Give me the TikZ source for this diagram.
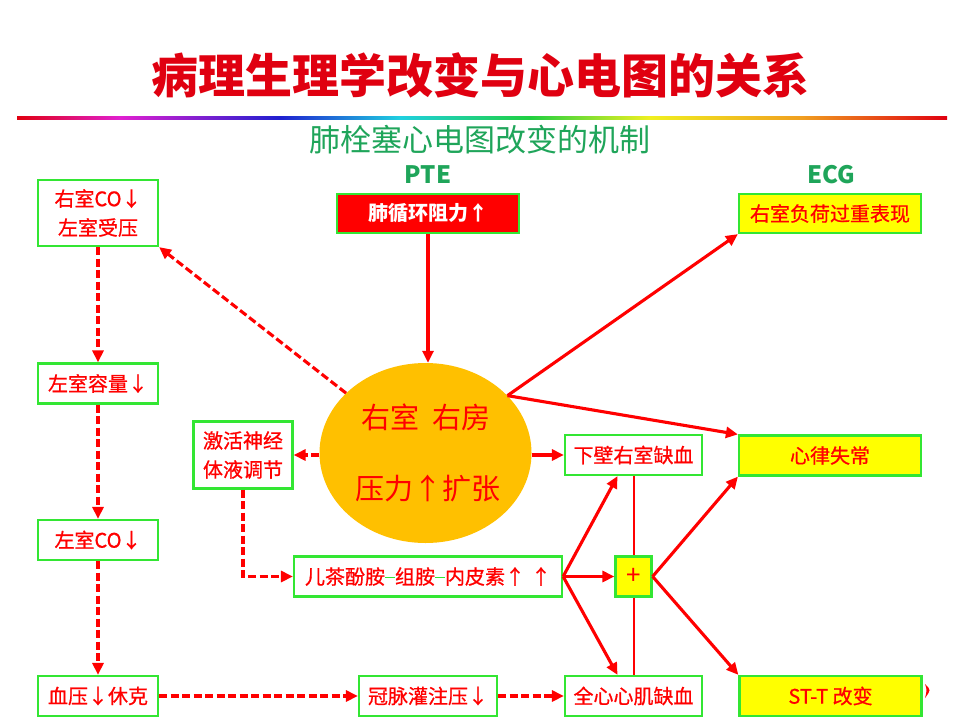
\documentclass[tikz,border=0pt]{standalone}
\usepackage{fontspec}
\newfontfamily\cjk{Noto Sans CJK SC}
\newfontfamily\cjkm{Noto Sans CJK SC}[FakeBold=0.8]
\usetikzlibrary{arrows.meta,shapes.geometric,calc}
\definecolor{bgreen}{HTML}{33E633}
\definecolor{tgreen}{HTML}{1FA55A}
\definecolor{ored}{HTML}{FF0000}
\definecolor{titlered}{HTML}{E00010}
\definecolor{cyell}{HTML}{FFFF00}
\definecolor{corange}{HTML}{FFC000}
\tikzset{
  box/.style={draw=bgreen, line width=2.2pt, fill=white, text=ored, inner sep=0pt,
    font=\cjkm\fontsize{20}{29}\selectfont, align=center},
  ybox/.style={box, fill=cyell},
  rbox/.style={box, fill=ored, text=white, font=\cjk\bfseries\fontsize{20}{24}\selectfont},
  arr/.style={draw=ored, line width=3.1pt, line join=miter, -{Triangle[length=12pt,width=11pt]}},
  darr/.style={arr, dash pattern=on 8pt off 3.5pt},
  ctext/.style={text=ored, inner sep=0pt, font=\cjk\fontsize{29}{32}\selectfont},
  head/.style={text=tgreen, inner sep=0pt, font=\cjk\bfseries\fontsize{24}{26}\selectfont}
}
\begin{document}
\begin{tikzpicture}[x=1pt,y=-1pt]
\useasboundingbox[fill=white] (0,0) rectangle (960,720);
% title
\node[text=titlered, inner sep=0pt, font=\cjk\bfseries\fontsize{47}{50}\selectfont] (title) at (480,75) {病理生理学改变与心电图的关系};
% rainbow rule
\shade[left color=titlered, right color={rgb,255:red,224;green,32;blue,208}] (17,116.5) rectangle (120,119.5);
\shade[left color={rgb,255:red,224;green,32;blue,208}, right color={rgb,255:red,32;green,32;blue,208}] (120,116.5) rectangle (280,119.5);
\shade[left color={rgb,255:red,32;green,32;blue,208}, right color={rgb,255:red,32;green,208;blue,224}] (280,116.5) rectangle (400,119.5);
\shade[left color={rgb,255:red,32;green,208;blue,224}, right color={rgb,255:red,32;green,208;blue,64}] (400,116.5) rectangle (530,119.5);
\shade[left color={rgb,255:red,32;green,208;blue,64}, right color={rgb,255:red,240;green,240;blue,32}] (530,116.5) rectangle (650,119.5);
\shade[left color={rgb,255:red,240;green,240;blue,32}, right color={rgb,255:red,240;green,160;blue,32}] (650,116.5) rectangle (800,119.5);
\shade[left color={rgb,255:red,240;green,160;blue,32}, right color=titlered] (800,116.5) rectangle (947,119.5);
% headings
\node[text=tgreen, inner sep=0pt, font=\cjk\fontsize{31}{33}\selectfont] (sub) at (480,140) {肺栓塞心电图改变的机制};
\node[head] (pte) at (428,175) {PTE};
\node[head] (ecg) at (831,175) {ECG};
% boxes
\node[box, minimum width=120pt, minimum height=66pt] (rvco) at (98,213) {右室CO↓\\左室受压};
\node[rbox, minimum width=182pt, minimum height=39pt] (pulm) at (428,213.5) {肺循环阻力↑};
\node[ybox, minimum width=182pt, minimum height=39pt] (rvload) at (830,213.5) {右室负荷过重表现};
\node[box, minimum width=120pt, minimum height=40pt] (lvvol) at (98,383.5) {左室容量↓};
\node[box, minimum width=120pt, minimum height=40pt] (lvco) at (98,540) {左室CO↓};
\node[box, minimum width=120pt, minimum height=40pt] (bp) at (98,696) {血压↓休克};
\node[box, minimum width=99pt, minimum height=67pt] (act) at (243,455) {激活神经\\体液调节};
\node[ellipse, fill=corange, minimum width=212pt, minimum height=180pt, inner sep=0pt] (circ) at (425.5,453) {};
\node[ctext] (c1) at (426,417) {右室\hspace{0.45em}右房};
\node[ctext] (c2) at (428,488) {压力↑扩张};
\node[box, minimum width=137pt, minimum height=40pt] (inf) at (633.5,455) {下壁右室缺血};
\node[ybox, minimum width=182pt, minimum height=40pt] (arrh) at (830,455.5) {心律失常};
\node[box, minimum width=268pt, minimum height=40pt] (cat) at (428,576.5) {儿茶酚胺\textcolor{bgreen}{\rule[0.32em]{0.5em}{1pt}}组胺\textcolor{bgreen}{\rule[0.32em]{0.5em}{1pt}}内皮素↑\hspace{0.3em}↑};
\node[box, minimum width=137pt, minimum height=40pt] (glob) at (633.5,696) {全心心肌缺血};
\node[box, minimum width=138pt, minimum height=40pt] (cor) at (428,696) {冠脉灌注压↓};
\node[ybox, minimum width=182pt, minimum height=40pt] (stt) at (830.5,696) {ST-T 改变};
% thin vertical line behind the plus box
\draw[ored, line width=2pt] (inf.south) -- (glob.north);
\node[ybox, minimum width=36pt, minimum height=40pt, font=\cjk\fontsize{26}{28}\selectfont] (plus) at (633.5,576.5) {+};
% connectors
\draw[arr] (pulm.south) -- (pulm.south |- circ.north);
\draw[darr] (circ.143) -- (rvco.south east);
\draw[darr] (rvco.south) -- (lvvol.north);
\draw[darr] (lvvol.south) -- (lvco.north);
\draw[darr] (lvco.south) -- (bp.north);
\draw[darr] (bp.east) -- (cor.west);
\draw[darr] (cor.east) -- (glob.west);
\draw[darr] (circ.west |- act.east) -- (act.east);
\draw[arr] (circ.east |- inf.west) -- (inf.west);
\draw[darr] (act.south) -- (act.south |- cat.west) -- (cat.west);
\draw[arr] (circ.35) -- (rvload.south west);
\draw[arr] (circ.35) -- (arrh.north west);
\draw[arr] (cat.east) -- (plus.west);
\draw[arr] (cat.east) -- ([xshift=-16pt]inf.south);
\draw[arr] (cat.east) -- ([xshift=-16pt]glob.north);
\draw[arr] (plus.east) -- (arrh.south west);
\draw[arr] (plus.east) -- (stt.north west);
% small red mark at right edge
\fill[ored] (925,684) .. controls (931,690) .. (925,698) .. controls (927,690) .. (925,684);
\end{tikzpicture}
\end{document}
